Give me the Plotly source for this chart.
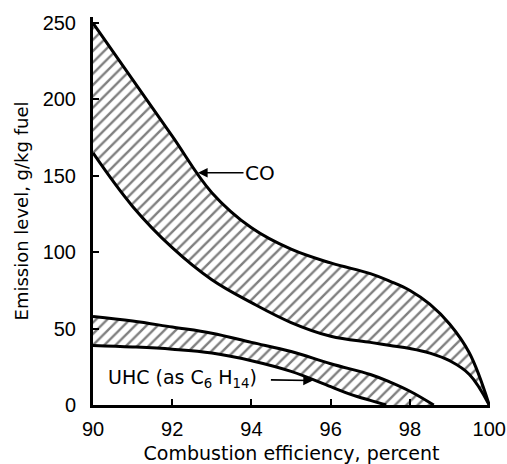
import plotly.graph_objects as go

# ---- data ----
co_x = [90, 91, 92, 93, 94, 95, 96, 97, 97.5, 98, 98.5, 99, 99.5, 100]
co_upper = [250, 213, 176, 139, 116, 102, 93, 86, 81, 75, 66, 53, 34, 0]
co_lower = [165, 130, 103, 82, 67, 54, 45, 41, 39, 37, 34, 29, 20, 0]

uhc_x_lower = [90, 91, 92, 93, 94, 95, 96, 96.5, 97, 97.4]
uhc_lower = [39, 38, 36.5, 34, 29, 22, 12, 7, 3, 0]
uhc_x_upper = [90, 91, 92, 93, 94, 95, 96, 97, 97.5, 98, 98.6]
uhc_upper = [58, 55, 51, 47, 41, 35, 27, 20, 15, 9, 0]

x_ticks = [90, 92, 94, 96, 98, 100]
y_ticks = [0, 50, 100, 150, 200, 250]

FONT = "DejaVu Sans"
TICKFONT = "Liberation Sans"
hatch = dict(shape="/", fgcolor="black", bgcolor="white", size=8, solidity=0.3)
edge = dict(color="black", width=3, shape="spline", smoothing=1.1)

fig = go.Figure()
fig.add_trace(go.Scatter(x=co_x, y=co_lower, mode="lines", line=edge, showlegend=False, hoverinfo="skip"))
fig.add_trace(go.Scatter(x=co_x, y=co_upper, mode="lines", line=edge, fill="tonexty",
                         fillpattern=hatch, showlegend=False, hoverinfo="skip"))
fig.add_trace(go.Scatter(x=uhc_x_lower, y=uhc_lower, mode="lines", line=edge, showlegend=False, hoverinfo="skip"))
fig.add_trace(go.Scatter(x=uhc_x_upper, y=uhc_upper, mode="lines", line=edge, fill="tonexty",
                         fillpattern=hatch, showlegend=False, hoverinfo="skip"))

fig.add_annotation(x=92.65, y=152, xref="x", yref="y", text="CO", showarrow=True,
                   ax=62, ay=0, arrowhead=2, arrowsize=1.2, arrowwidth=1.6, arrowcolor="black",
                   font=dict(family=FONT, size=20, color="black"))
fig.add_annotation(x=95.55, y=16, xref="x", yref="y",
                   text="UHC (as C<sub>6</sub> H<sub>14</sub>)", showarrow=True,
                   ax=-130, ay=-2, arrowhead=2, arrowsize=1.2, arrowwidth=1.6, arrowcolor="black",
                   standoff=0, startstandoff=12,
                   font=dict(family=FONT, size=19, color="black"))

fig.update_layout(
    width=507, height=464,
    margin=dict(l=93, r=17, t=17, b=59),
    plot_bgcolor="white", paper_bgcolor="white",
    font=dict(family=FONT, color="black"),
)
fig.update_xaxes(range=[90, 100.02], tickvals=x_ticks, ticks="inside", ticklen=6, tickwidth=2,
                 tickcolor="black", showline=True, linecolor="black", linewidth=3,
                 showgrid=False, zeroline=False, tickfont=dict(family=TICKFONT, size=20),
                 ticklabeloverflow="allow", ticklabelstandoff=4, automargin=False,
                 title=dict(text="Combustion efficiency, percent", font=dict(family=FONT, size=19),
                            standoff=18))
fig.update_yaxes(range=[0, 254], tickvals=y_ticks, ticks="inside", ticklen=6, tickwidth=2,
                 tickcolor="black", showline=True, linecolor="black", linewidth=3,
                 showgrid=False, zeroline=False, tickfont=dict(family=TICKFONT, size=20),
                 ticklabelstandoff=10, automargin=False, ticklabeloverflow="allow",
                 title=dict(text="Emission level, g/kg fuel", font=dict(family=FONT, size=18),
                            standoff=10))

fig.write_html("out.html",
               config={"displayModeBar": False},
               post_script="document.body.style.margin='0px';document.body.style.overflow='hidden';")
